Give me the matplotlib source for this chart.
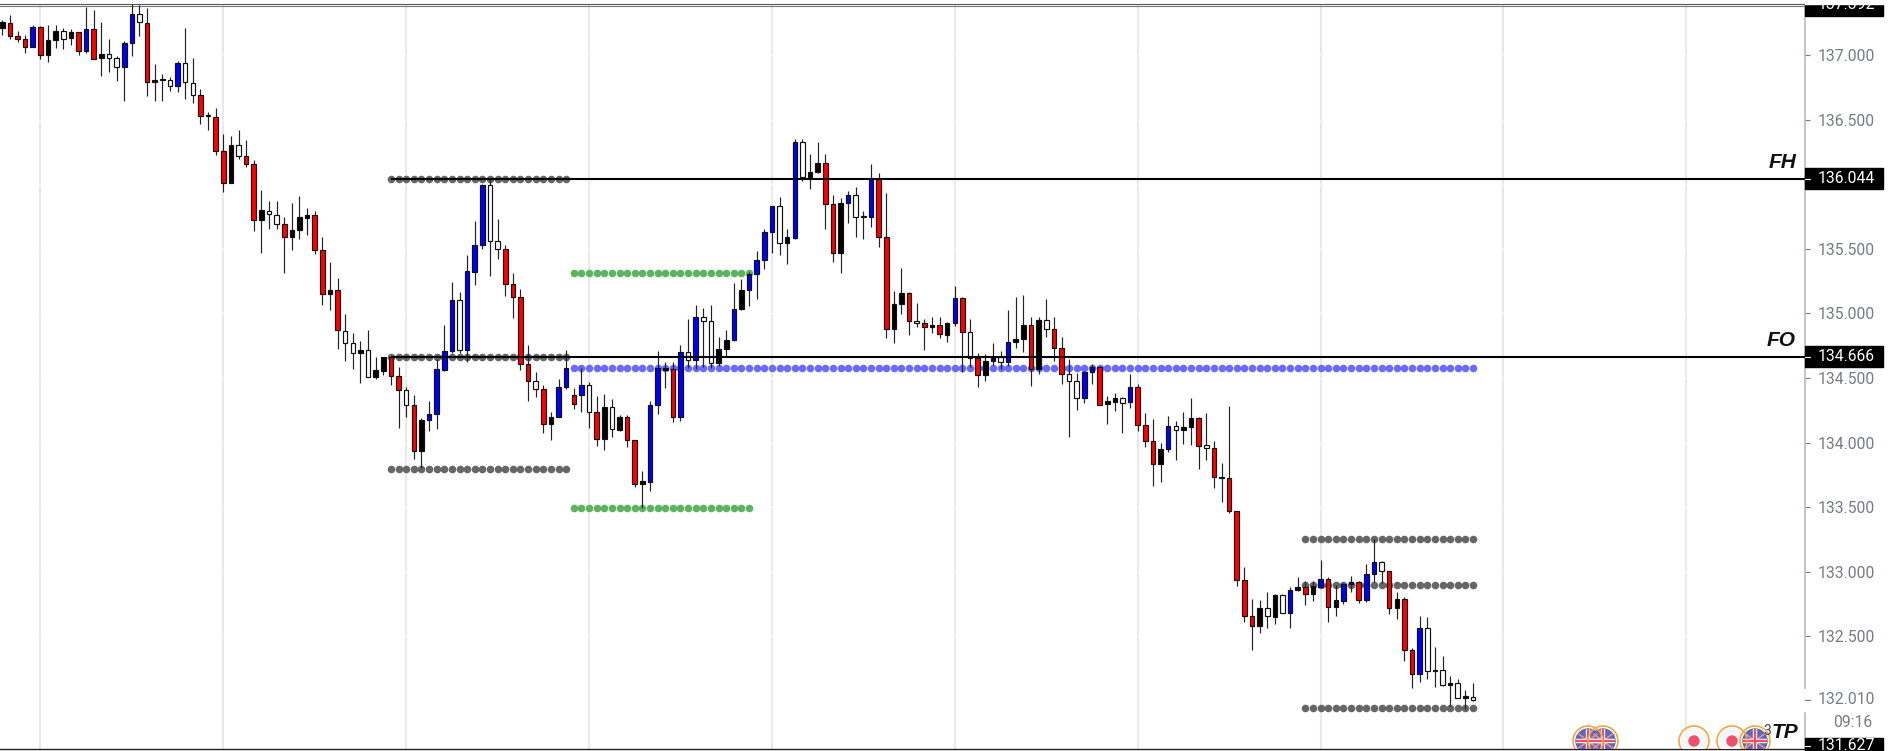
import matplotlib
matplotlib.use("Agg")
import numpy as np
import matplotlib.pyplot as plt
from matplotlib.patches import Circle, Rectangle

# candles: k black, r red, b blue, w hollow
body_colors = ("krrrbrkkwk" "rbrkwwbbwr" "kkwbwwrkrr" "kwrrkwwrkk" "krrkrwwkwk"
               "krrwrkbbbb" "wbbbwwrrrr" "wrkbbrbwrk" "wkrrkbbkrb" "wbwwkkbkbb"
               "bbwkbwkkrr" "kbwkbrrkkr" "wrkrkbrwrk" "kwbkkrkwrr" "wwbbrkkwbr"
               "rrkbwkkrwr" "krrrrkwkwb" "krkbrkbbrb" "bwrkrrbwkw" "kwkw")

highs = [
    137.271, 137.310, 137.189, 137.155, 137.232, 137.227, 137.232, 137.232, 137.207, 137.199,
    137.181, 137.369, 137.349, 137.253, 137.122, 136.993, 137.111, 137.392, 137.387, 137.362,
    136.928, 136.853, 136.827, 136.951, 137.207, 136.975, 136.735, 136.557, 136.593, 136.386,
    136.373, 136.420, 136.340, 136.185, 135.955, 135.873, 135.868, 135.744, 135.852, 135.909,
    135.814, 135.793, 135.589, 135.401, 135.272, 134.993, 134.846, 134.789, 134.869, 134.665,
    134.665, 134.671, 134.583, 134.433, 134.371, 134.188, 134.322, 134.645, 134.910, 135.246,
    135.163, 135.450, 135.713, 136.002, 136.038, 135.728, 135.530, 135.310, 135.189, 134.755,
    134.544, 134.443, 134.234, 134.495, 134.717, 134.420, 134.575, 134.467, 134.363, 134.374,
    134.340, 134.216, 134.214, 134.020, 133.778, 134.322, 134.709, 134.621, 134.621, 134.753,
    134.954, 135.065, 135.039, 135.065, 134.820, 134.869, 135.238, 135.264, 135.323, 135.483,
    135.653, 135.831, 135.898, 135.653, 136.347, 136.347, 136.234, 136.329, 136.234, 135.914,
    135.891, 135.947, 135.981, 135.790, 136.154, 136.084, 135.929, 135.171, 135.349, 135.168,
    135.081, 134.959, 134.970, 134.975, 134.931, 135.212, 135.130, 134.959, 134.691, 134.683,
    134.771, 134.709, 135.026, 135.124, 135.140, 134.975, 134.975, 135.109, 134.975, 134.815,
    134.650, 134.536, 134.557, 134.608, 134.593, 134.361, 134.381, 134.350, 134.529, 134.454,
    134.227, 134.186, 133.995, 134.209, 134.168, 134.235, 134.348, 134.196, 134.227, 134.013,
    133.840, 134.284, 133.474, 133.040, 132.787, 132.782, 132.847, 132.826, 132.826, 132.885,
    132.960, 132.929, 132.932, 133.092, 132.958, 132.896, 132.916, 132.968, 132.932, 133.058,
    133.252, 133.087, 133.009, 132.844, 132.803, 132.413, 132.658, 132.648, 132.416, 132.349,
    132.194, 132.168, 132.086, 132.137,
]
tops = [
    137.253, 137.251, 137.145, 137.122, 137.220, 137.220, 137.114, 137.186, 137.186, 137.178,
    137.176, 137.202, 137.202, 137.008, 137.005, 136.975, 137.091, 137.318, 137.318, 137.251,
    136.804, 136.812, 136.809, 136.936, 136.936, 136.786, 136.688, 136.536, 136.523, 136.255,
    136.304, 136.304, 136.221, 136.157, 135.798, 135.795, 135.764, 135.692, 135.643, 135.744,
    135.759, 135.759, 135.488, 135.179, 135.179, 134.867, 134.769, 134.714, 134.714, 134.560,
    134.665, 134.665, 134.516, 134.410, 134.289, 134.175, 134.224, 134.567, 134.712, 135.107,
    135.107, 135.326, 135.530, 135.994, 135.994, 135.563, 135.496, 135.228, 135.130, 134.606,
    134.474, 134.412, 134.198, 134.433, 134.575, 134.369, 134.443, 134.443, 134.240, 134.273,
    134.273, 134.198, 134.198, 134.018, 133.703, 134.289, 134.575, 134.575, 134.567, 134.704,
    134.704, 134.972, 134.972, 134.941, 134.727, 134.794, 135.032, 135.179, 135.305, 135.413,
    135.628, 135.831, 135.831, 135.589, 136.329, 136.329, 136.092, 136.167, 136.167, 135.847,
    135.855, 135.914, 135.914, 135.751, 136.040, 136.040, 135.594, 135.073, 135.161, 135.161,
    134.944, 134.923, 134.910, 134.908, 134.926, 135.122, 135.122, 134.854, 134.657, 134.629,
    134.660, 134.663, 134.779, 134.802, 134.910, 134.908, 134.949, 134.949, 134.877, 134.735,
    134.534, 134.474, 134.549, 134.583, 134.583, 134.319, 134.345, 134.345, 134.433, 134.433,
    134.134, 134.010, 133.954, 134.132, 134.132, 134.124, 134.191, 134.191, 133.979, 133.961,
    133.734, 133.724, 133.471, 132.934, 132.656, 132.720, 132.720, 132.818, 132.818, 132.860,
    132.885, 132.885, 132.893, 132.947, 132.947, 132.780, 132.909, 132.924, 132.924, 132.981,
    133.079, 133.079, 133.004, 132.787, 132.787, 132.395, 132.565, 132.565, 132.240, 132.238,
    132.142, 132.142, 132.037, 132.034,
]
bottoms = [
    137.212, 137.147, 137.122, 137.065, 137.065, 137.000, 137.000, 137.114, 137.127, 137.129,
    137.031, 137.034, 136.972, 136.975, 136.975, 136.910, 136.910, 137.091, 137.253, 136.789,
    136.789, 136.804, 136.760, 136.763, 136.789, 136.688, 136.531, 136.526, 136.255, 136.010,
    136.010, 136.221, 136.157, 135.726, 135.726, 135.767, 135.692, 135.594, 135.594, 135.643,
    135.741, 135.488, 135.153, 135.153, 134.869, 134.769, 134.691, 134.691, 134.508, 134.508,
    134.557, 134.516, 134.410, 134.289, 133.938, 133.938, 134.173, 134.224, 134.565, 134.712,
    134.717, 134.717, 135.323, 135.530, 135.563, 135.496, 135.228, 135.130, 134.606, 134.474,
    134.412, 134.141, 134.141, 134.198, 134.433, 134.301, 134.371, 134.237, 134.025, 134.025,
    134.103, 134.100, 134.018, 133.682, 133.682, 133.698, 134.289, 134.562, 134.198, 134.198,
    134.639, 134.639, 134.941, 134.614, 134.614, 134.727, 134.794, 135.032, 135.179, 135.302,
    135.413, 135.628, 135.545, 135.545, 135.586, 136.053, 136.053, 136.092, 135.847, 135.465,
    135.465, 135.855, 135.744, 135.744, 135.749, 135.594, 134.877, 134.877, 135.070, 134.941,
    134.923, 134.892, 134.892, 134.838, 134.835, 134.923, 134.854, 134.657, 134.526, 134.526,
    134.629, 134.621, 134.627, 134.776, 134.802, 134.567, 134.567, 134.877, 134.735, 134.534,
    134.474, 134.343, 134.343, 134.549, 134.294, 134.296, 134.317, 134.309, 134.312, 134.134,
    134.010, 133.832, 133.832, 133.954, 134.101, 134.101, 134.124, 133.977, 133.961, 133.732,
    133.724, 133.468, 132.934, 132.656, 132.581, 132.581, 132.656, 132.653, 132.679, 132.679,
    132.857, 132.826, 132.826, 132.885, 132.731, 132.728, 132.777, 132.909, 132.785, 132.782,
    132.981, 133.007, 132.720, 132.720, 132.395, 132.207, 132.207, 132.230, 132.230, 132.124,
    132.124, 132.026, 132.026, 132.008,
]
lows = [
    137.155, 137.124, 137.104, 137.018, 137.060, 136.969, 136.946, 137.052, 137.049, 137.078,
    137.000, 137.013, 136.967, 136.838, 136.871, 136.799, 136.644, 136.995, 137.150, 136.683,
    136.644, 136.644, 136.724, 136.716, 136.660, 136.626, 136.464, 136.422, 136.229, 135.940,
    136.010, 136.198, 136.131, 135.641, 135.468, 135.656, 135.654, 135.313, 135.491, 135.574,
    135.607, 135.460, 135.068, 135.027, 134.725, 134.634, 134.570, 134.464, 134.508, 134.490,
    134.521, 134.446, 134.113, 134.201, 133.876, 133.801, 134.087, 134.106, 134.557, 134.691,
    134.691, 134.627, 135.220, 135.501, 135.292, 135.419, 135.135, 134.962, 134.562, 134.325,
    134.350, 134.072, 134.020, 134.196, 134.415, 134.260, 134.234, 134.116, 133.974, 133.943,
    134.046, 134.090, 133.969, 133.659, 133.491, 133.625, 134.219, 134.425, 134.162, 134.170,
    134.575, 134.567, 134.588, 134.575, 134.593, 134.670, 134.786, 135.026, 135.060, 135.109,
    135.344, 135.470, 135.452, 135.380, 135.576, 136.025, 135.960, 136.089, 135.656, 135.400,
    135.315, 135.697, 135.589, 135.573, 135.666, 135.517, 134.807, 134.768, 134.995, 134.833,
    134.897, 134.717, 134.851, 134.807, 134.781, 134.905, 134.544, 134.588, 134.433, 134.479,
    134.601, 134.567, 134.596, 134.732, 134.701, 134.441, 134.531, 134.820, 134.634, 134.454,
    134.046, 134.252, 134.309, 134.454, 134.289, 134.144, 134.242, 134.072, 134.268, 134.087,
    133.966, 133.665, 133.696, 133.925, 133.866, 133.992, 133.982, 133.794, 133.866, 133.647,
    133.541, 133.458, 132.891, 132.609, 132.398, 132.529, 132.563, 132.594, 132.679, 132.568,
    132.852, 132.741, 132.775, 132.880, 132.612, 132.658, 132.751, 132.847, 132.756, 132.769,
    132.924, 132.911, 132.674, 132.635, 132.307, 132.104, 132.145, 132.168, 132.111, 132.119,
    131.964, 132.021, 131.936, 132.003,
]

# dotted levels: (price, first candle, last candle)
gray_levels = [(136.044, 51, 74), (134.666, 51, 74), (133.799, 51, 74),
               (133.252, 171, 193), (132.901, 171, 193), (131.944, 171, 193)]
green_levels = [(135.315, 75, 98), (133.496, 75, 98)]
blue_levels = [(134.575, 75, 193)]

price_ticks = [137.0, 136.5, 136.0, 135.5, 135.0, 134.5, 134.0, 133.5, 133.0, 132.5]
price_labels = ["137.000", "136.500", "136.000", "135.500", "135.000",
                "134.500", "134.000", "133.500", "133.000", "132.500"]
time_grid = [5, 29, 53, 77, 101, 125, 149, 173, 197, 221]

FH = 136.044
FO = 134.666
y_top = 137.392
y_bottom = 131.627
last_price = 132.010
countdown = "09:16"

color_map = {"k": "#000000", "r": "#ff0000", "b": "#0000ff", "w": "#ffffff"}
AXIS_GREY = "#787b86"
FONT = "Roboto"
LABEL_SIZE = 11.3

fig = plt.figure(figsize=(18.92, 7.51), dpi=100)
ax = fig.add_axes([0, 1.8 / 751, 1805 / 1892, 744.85 / 751])
ax.set_xlim(-0.302, 236.57)
ax.set_ylim(y_bottom, y_top)
ax.set_xticks([])

ax.spines["left"].set_visible(False)
ax.spines["top"].set_color("#555555")
ax.spines["top"].set_linewidth(0.8)
ax.spines["bottom"].set_color("#222222")
ax.spines["bottom"].set_linewidth(1.0)
ax.spines["right"].set_color("#b2b5be")
ax.spines["right"].set_linewidth(1.1)
ax.axhline(y_top - 0.014, color="#777777", lw=0.8, zorder=1)

ax.yaxis.tick_right()
ax.set_yticks(price_ticks)
ax.set_yticklabels(price_labels, family=FONT, fontsize=LABEL_SIZE, color=AXIS_GREY)
ax.tick_params(axis="y", length=3.6, width=0.8, color=AXIS_GREY, pad=5.8)

# grid, the horizontal ones only show as gaps in the vertical ones
ax.vlines(time_grid, y_bottom, y_top, color="#e0e3eb", lw=1.1, zorder=0.5)
ax.hlines(price_ticks, -1, 237, color="#ffffff", lw=0.7, zorder=0.6)

# dots
for levels, col in [(gray_levels, "#666666"), (green_levels, "#5cb360"), (blue_levels, "#6a6aff")]:
    for price, first, last in levels:
        xs = np.arange(first, last + 1)
        ax.scatter(xs, np.full(len(xs), price), s=30, color=col, linewidths=0, zorder=2)

# candles
n = np.arange(len(highs))
tops_a = np.array(tops)
bottoms_a = np.array(bottoms)
ax.vlines(n, lows, highs, color="#222222", lw=0.85, zorder=3)
ax.bar(n, tops_a - bottoms_a, bottom=bottoms_a, width=0.6,
       color=[color_map[c] for c in body_colors], edgecolor="#111111", linewidth=0.85, zorder=4)

# FH / FO lines
ax.hlines([FH, FO], 51, 236.57, color="#000000", lw=1.5, zorder=5)

# price boxes on the axis
tr = ax.get_yaxis_transform()
w_box = 78 / 1805
for price in [FH, FO]:
    ax.add_patch(Rectangle((1, price - 0.083), w_box, 0.166, transform=tr,
                           color="#000000", clip_on=False, zorder=6))
ax.add_patch(Rectangle((1, y_top - 0.09), w_box, 0.09, transform=tr,
                       color="#000000", clip_on=False, zorder=6))
ax.add_patch(Rectangle((1, y_bottom - 0.02), w_box, 0.105, transform=tr,
                       color="#000000", clip_on=False, zorder=6))
# white background for the last price and countdown
ax.add_patch(Rectangle((1 - 0.0005, last_price - 0.085), w_box, 0.17, transform=tr,
                       color="#ffffff", clip_on=False, zorder=6))
ax.add_patch(Rectangle((1.001, last_price - 0.27), w_box, 0.19, transform=tr,
                       color="#ffffff", clip_on=False, zorder=6))

lab_x = 1 + 13 / 1805
for price, label_y, col in [(FH, FH, "#ffffff"), (FO, FO, "#ffffff"), (y_top, y_top, "#ffffff"),
                            (y_bottom, y_bottom + 0.025, "#ffffff"), (last_price, last_price, AXIS_GREY)]:
    ax.text(lab_x, label_y, f"{price:.3f}", transform=tr, family=FONT, fontsize=LABEL_SIZE, color=col,
            va="center", ha="left", clip_on=False, zorder=7)
    ax.plot([1, 1 + 5 / 1805], [label_y, label_y], transform=tr, color=col, lw=0.8,
            clip_on=False, zorder=7)
ax.text(1 + 67 / 1805, last_price - 0.175, countdown, transform=tr, family=FONT, fontsize=LABEL_SIZE,
        color=AXIS_GREY, va="center", ha="right", clip_on=False, zorder=7)
# top of the 137.392 label is cut off
fig.patches.append(Rectangle((1805 / 1892, 747 / 751), 87 / 1892, 4 / 751, transform=fig.transFigure,
                             color="#ffffff"))

# overlay in pixels for the labels and event icons
ov = fig.add_axes(ax.get_position(), facecolor="none")
ov.set_xlim(0, 1805)
ov.set_ylim(749.2, 4.35)
ov.axis("off")
for txt, y in [("FH", 163), ("FO", 341)]:
    ov.text(1796, y, txt, family="Liberation Sans", fontsize=15, weight="bold", style="italic",
            color="#111111", ha="right", va="center")
ov.text(1785, 733, "TP", family="Liberation Sans", fontsize=15, weight="bold", style="italic",
        color="#111111", ha="center", va="center", zorder=9)
ov.text(1767, 731, "3", family=FONT, fontsize=10, color="#444444", ha="center", va="center", zorder=9)


def flag(x, y=741):
    base = Circle((x, y), 12, color="#5a6ab5", zorder=3)
    ov.add_patch(base)
    for lw, col in [(3.2, "#f4f4f8"), (1.6, "#ef4f5f")]:
        for seg in [([x - 12, x + 12], [y, y]), ([x, x], [y - 12, y + 12])]:
            ln, = ov.plot(*seg, color=col, lw=lw, zorder=4)
            ln.set_clip_path(base)
    for seg in [([x - 12, x + 12], [y - 9, y + 9]), ([x - 12, x + 12], [y + 9, y - 9])]:
        ln, = ov.plot(*seg, color="#f08a96", lw=1.2, zorder=3.5)
        ln.set_clip_path(base)
    ov.add_patch(Circle((x, y), 15, fill=False, ec="#f7a641", lw=1.2, zorder=5))


def dot(x, y=741):
    ov.add_patch(Circle((x, y), 12.5, color="#f5f6fa", zorder=3))
    ov.add_patch(Circle((x, y), 5, color="#f0506e", zorder=4))
    ov.add_patch(Circle((x, y), 15, fill=False, ec="#f7a641", lw=1.2, zorder=5))


flag(1588)
flag(1603)
dot(1694)
dot(1732)
flag(1755)

fig.savefig("out.png", dpi=100, facecolor="white")
plt.close(fig)
